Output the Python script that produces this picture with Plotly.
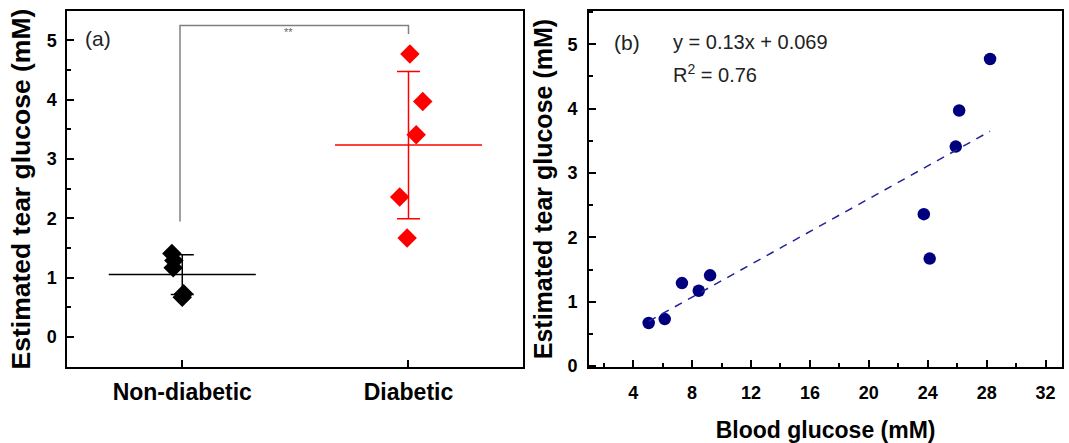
import numpy as np
import plotly.graph_objects as go

# ---- data ----
groups = ["Non-diabetic", "Diabetic"]
tear_nondiabetic = [0.67, 0.73, 1.29, 1.17, 1.41]
tear_diabetic = [2.36, 1.67, 3.41, 3.97, 4.77]
jitter_nondiabetic = [0.0, 0.006, -0.037, -0.04, -0.046]
jitter_diabetic = [0.961, 0.994, 1.034, 1.063, 1.006]
blood_glucose = [5.05, 6.14, 7.31, 8.45, 9.22, 23.73, 24.13, 25.9, 26.13, 28.23]
tear_glucose = tear_nondiabetic + tear_diabetic
fit_text = "y = 0.13x + 0.069"
r2_text = "R<sup>2</sup> = 0.76"
y_ticks = [0, 1, 2, 3, 4, 5]
x_ticks_b = [4, 8, 12, 16, 20, 24, 28, 32]

FONT = "Arial, Liberation Sans, sans-serif"
colors = ["#000000", "#ff0000"]

fig = go.Figure()

# ---- panel (a) ----
for i, (vals, xs) in enumerate([(tear_nondiabetic, jitter_nondiabetic), (tear_diabetic, jitter_diabetic)]):
    v = np.array(vals)
    m = v.mean()
    sd = v.std(ddof=1)
    fig.add_trace(go.Scatter(x=[i - 0.325, i + 0.325], y=[m, m], mode="lines",
                             line=dict(color=colors[i], width=1.5), xaxis="x", yaxis="y",
                             hoverinfo="skip"))
    fig.add_trace(go.Scatter(x=[i], y=[m], mode="markers", marker=dict(size=0.1, color=colors[i]),
                             error_y=dict(type="data", array=[sd], visible=True, color=colors[i],
                                          thickness=1.5, width=11.5),
                             xaxis="x", yaxis="y"))
    fig.add_trace(go.Scatter(x=xs, y=vals, mode="markers",
                             marker=dict(symbol="diamond", size=15, color=colors[i]),
                             xaxis="x", yaxis="y"))

# significance bracket
fig.add_trace(go.Scatter(x=[-0.01, -0.01, 1.0, 1.0], y=[1.95, 5.25, 5.25, 5.11], mode="lines",
                         line=dict(color="#808080", width=1.5), xaxis="x", yaxis="y", hoverinfo="skip"))

# ---- panel (b) ----
fig.add_trace(go.Scatter(x=blood_glucose, y=tear_glucose, mode="markers",
                         marker=dict(symbol="circle", size=12.5, color="#00007f"),
                         xaxis="x2", yaxis="y2"))
slope, intercept = np.polyfit(blood_glucose, tear_glucose, 1)
xf = np.array([min(blood_glucose), max(blood_glucose)])
fig.add_trace(go.Scatter(x=xf, y=slope * xf + intercept, mode="lines",
                         line=dict(color="#22229a", width=1.5, dash="8px,7px"),
                         xaxis="x2", yaxis="y2"))

ydom = [0.1535, 0.9752]
common_axis = dict(showline=True, linecolor="black", linewidth=2, mirror=True,
                   showgrid=False, zeroline=False, ticks="inside", ticklen=7, tickwidth=1.5,
                   tickcolor="black")
tickfont = dict(family=FONT, size=18, color="black", weight="bold")

fig.update_layout(
    width=1069, height=443,
    margin=dict(l=0, r=0, t=0, b=0),
    paper_bgcolor="white", plot_bgcolor="white",
    showlegend=False,
    font=dict(family=FONT, color="black"),
    xaxis=dict(domain=[0.063, 0.489], range=[-0.508, 1.505], tickvals=[0, 1], ticktext=groups,
               tickfont=dict(family=FONT, size=23, color="black", weight="bold"),
               anchor="y", ticklabelstandoff=3, **common_axis),
    yaxis=dict(domain=ydom, range=[-0.51, 5.5], tickvals=y_ticks, tickfont=tickfont,
               minor=dict(dtick=0.5, ticks="inside", ticklen=4, tickwidth=1.5, tickcolor="black"),
               anchor="x", ticklabelstandoff=5,
               title=dict(text="<b>Estimated tear glucose (mM)</b>",
                          font=dict(family=FONT, size=26.5, color="black"), standoff=8),
               **common_axis),
    xaxis2=dict(domain=[0.551, 0.9937], range=[1.0, 33.13], tickvals=x_ticks_b, tickfont=tickfont,
                minor=dict(dtick=4, tick0=2, ticks="inside", ticklen=4, tickwidth=1.5, tickcolor="black"),
                anchor="y2", ticklabelstandoff=8,
                title=dict(text="<b>Blood glucose (mM)</b>",
                           font=dict(family=FONT, size=23, color="black"), standoff=20),
                **common_axis),
    yaxis2=dict(domain=ydom, range=[-0.02, 5.52], tickvals=y_ticks, tickfont=tickfont,
                minor=dict(dtick=0.5, ticks="inside", ticklen=4, tickwidth=1.5, tickcolor="black"),
                anchor="x2", ticklabelstandoff=6,
                title=dict(text="<b>Estimated tear glucose (mM)</b>",
                           font=dict(family=FONT, size=25, color="black"), standoff=8),
                **common_axis),
    annotations=[
        dict(text="(a)", x=-0.373, y=5.03, xref="x", yref="y", xanchor="center", yanchor="middle",
             showarrow=False, font=dict(family=FONT, size=21, color="#222")),
        dict(text="**", x=0.47, y=5.14, xref="x", yref="y", xanchor="center", yanchor="middle",
             showarrow=False, font=dict(family=FONT, size=11, color="#666")),
        dict(text="(b)", x=3.56, y=5.03, xref="x2", yref="y2", xanchor="center", yanchor="middle",
             showarrow=False, font=dict(family=FONT, size=21, color="#222")),
        dict(text=fit_text, x=6.6, y=5.03, xref="x2", yref="y2", xanchor="left", yanchor="middle",
             showarrow=False, font=dict(family=FONT, size=20, color="#222")),
        dict(text=r2_text, x=6.6, y=4.55, xref="x2", yref="y2", xanchor="left", yanchor="middle",
             showarrow=False, font=dict(family=FONT, size=20, color="#222")),
    ],
)

fig.write_html("out.html")
